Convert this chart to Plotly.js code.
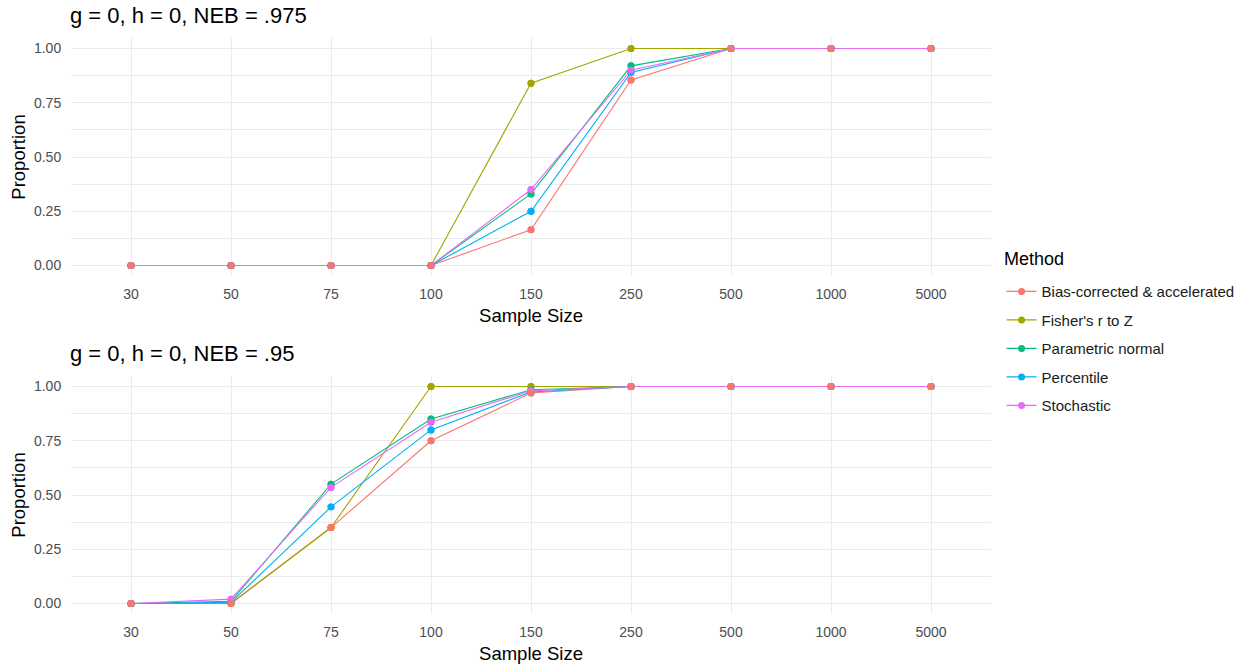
<!DOCTYPE html>
<html>
<head>
<meta charset="utf-8">
<script src="https://cdn.plot.ly/plotly-3.0.1.min.js"></script>
<style>
  html, body { margin: 0; padding: 0; background: #ffffff; }
  #chart { width: 1257px; height: 668px; }
</style>
</head>
<body>
<div id="chart"></div>
<script>
// Sample sizes along the x axis (discrete)
const sampleSizes = ['30', '50', '75', '100', '150', '250', '500', '1000', '5000'];

// Method names and their colours
const methods = ['Bias-corrected & accelerated', "Fisher's r to Z", 'Parametric normal', 'Percentile', 'Stochastic'];
const methodColors = ['#F8766D', '#A3A500', '#00BF7D', '#00B0F6', '#E76BF3'];

// Panel titles and legend heading
const panelTitles = ['g = 0, h = 0, NEB = .975', 'g = 0, h = 0, NEB = .95'];
const legendHeading = 'Method';

// Proportions, NEB = .975
const bca975        = [0, 0, 0, 0, 0.165, 0.855, 1, 1, 1];
const fisher975     = [0, 0, 0, 0, 0.84,  1.00,  1, 1, 1];
const parametric975 = [0, 0, 0, 0, 0.33,  0.92,  1, 1, 1];
const percentile975 = [0, 0, 0, 0, 0.25,  0.89,  1, 1, 1];
const stochastic975 = [0, 0, 0, 0, 0.35,  0.90,  1, 1, 1];

// Proportions, NEB = .95
const bca95        = [0, 0,     0.35,  0.75,  0.97,  1, 1, 1, 1];
const fisher95     = [0, 0,     0.35,  1.00,  1.00,  1, 1, 1, 1];
const parametric95 = [0, 0.01,  0.55,  0.85,  0.985, 1, 1, 1, 1];
const percentile95 = [0, 0.005, 0.445, 0.80,  0.975, 1, 1, 1, 1];
const stochastic95 = [0, 0.02,  0.535, 0.835, 0.98,  1, 1, 1, 1];

const panels = [
  { xa: 'x',  ya: 'y',  series: [bca975, fisher975, parametric975, percentile975, stochastic975] },
  { xa: 'x2', ya: 'y2', series: [bca95, fisher95, parametric95, percentile95, stochastic95] }
];

const traces = [];
// Lines with points (first panel carries the legend entries)
panels.forEach((p, pi) => {
  p.series.forEach((vals, mi) => {
    traces.push({
      type: 'scatter', mode: 'lines+markers',
      x: sampleSizes, y: vals, xaxis: p.xa, yaxis: p.ya,
      name: methods[mi], legendgroup: methods[mi], showlegend: pi === 0,
      line: { color: methodColors[mi], width: 1.1 },
      marker: { color: methodColors[mi], size: 7 },
      hoverinfo: 'x+y+name'
    });
  });
});
// Point layer drawn over the lines, first method on top
const pointOrder = [1, 2, 3, 4, 0];
panels.forEach((p) => {
  pointOrder.forEach((mi) => {
    traces.push({
      type: 'scatter', mode: 'markers',
      x: sampleSizes, y: p.series[mi], xaxis: p.xa, yaxis: p.ya,
      name: methods[mi], legendgroup: methods[mi], showlegend: false,
      marker: { color: methodColors[mi], size: 7 },
      hoverinfo: 'skip'
    });
  });
});

const gridCol = '#EBEBEB';
const fontFamily = 'Liberation Sans, Arial, sans-serif';
const tickFont = { family: fontFamily, size: 14, color: '#4D4D4D' };
const titleFont = { family: fontFamily, size: 18.5, color: '#000000' };

function xAxis(anchor) {
  return {
    type: 'category', categoryorder: 'array', categoryarray: sampleSizes,
    range: [-0.6, 8.6], anchor: anchor,
    showgrid: true, gridcolor: gridCol, gridwidth: 1.1,
    zeroline: false, showline: false,
    ticks: 'outside', ticklen: 5, tickcolor: 'rgba(0,0,0,0)',
    tickfont: tickFont,
    title: { text: 'Sample Size', font: titleFont, standoff: 7 },
    automargin: false, fixedrange: true
  };
}
function yAxis(anchor, domain) {
  return {
    domain: domain, anchor: anchor,
    range: [-0.05, 1.05], tickvals: [0, 0.25, 0.5, 0.75, 1], tickformat: '.2f',
    showgrid: true, gridcolor: gridCol, gridwidth: 1,
    minor: { tickvals: [0.125, 0.375, 0.625, 0.875], showgrid: true, gridcolor: gridCol, gridwidth: 1 },
    zeroline: false, showline: false,
    ticks: 'outside', ticklen: 6, tickcolor: 'rgba(0,0,0,0)',
    tickfont: tickFont,
    title: { text: 'Proportion', font: titleFont, standoff: 3 },
    automargin: false, fixedrange: true
  };
}

const layout = {
  width: 1257, height: 668,
  paper_bgcolor: '#ffffff', plot_bgcolor: '#ffffff',
  margin: { l: 71, r: 266, t: 37, b: 53 },
  font: { family: fontFamily, color: '#000000' },
  xaxis: xAxis('y'),
  yaxis: yAxis('x', [0.585899, 0.998875]),
  xaxis2: xAxis('y2'),
  yaxis2: yAxis('x2', [0.001125, 0.4141]),
  showlegend: true,
  legend: {
    x: 1.0115, xanchor: 'left', y: 0.588, yanchor: 'top',
    font: { family: fontFamily, size: 15, color: '#1a1a1a' },
    traceorder: 'grouped', tracegroupgap: 6,
    itemwidth: 30, bgcolor: 'rgba(0,0,0,0)'
  },
  annotations: [
    { text: panelTitles[0], xref: 'paper', yref: 'paper', x: -0.0035, y: 0.998875,
      xanchor: 'left', yanchor: 'bottom', yshift: 8, showarrow: false,
      font: { family: fontFamily, size: 22, color: '#000000' } },
    { text: panelTitles[1], xref: 'paper', yref: 'paper', x: -0.0035, y: 0.4141,
      xanchor: 'left', yanchor: 'bottom', yshift: 8, showarrow: false,
      font: { family: fontFamily, size: 22, color: '#000000' } },
    { text: legendHeading, xref: 'paper', yref: 'paper', x: 1.0118, y: 0.616,
      xanchor: 'left', yanchor: 'middle', showarrow: false,
      font: { family: fontFamily, size: 18, color: '#000000' } }
  ]
};

Plotly.newPlot('chart', traces, layout, { displayModeBar: false });
</script>
</body>
</html>
